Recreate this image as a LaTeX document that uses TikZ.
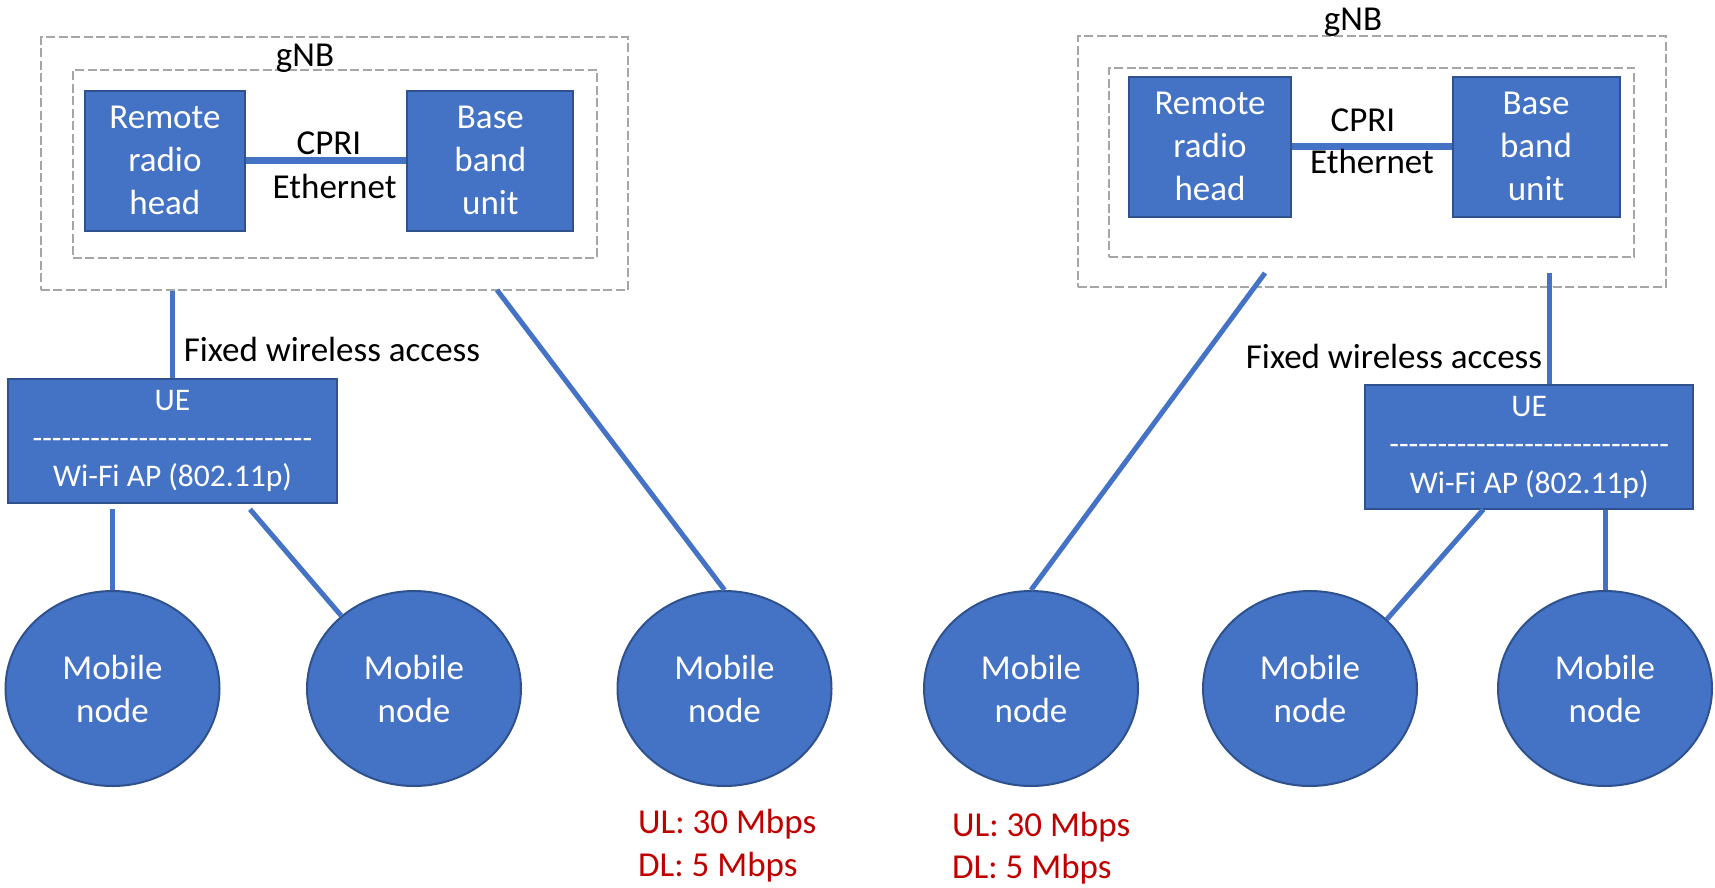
\documentclass[tikz,border=0pt]{standalone}
\usepackage{fontspec}
\setmainfont{Carlito}
\newfontfamily\uefont{Carlito}[Ligatures=TeXOff]
\usetikzlibrary{shapes.geometric,calc}
\definecolor{unitblue}{HTML}{4472C4}
\definecolor{unitedge}{HTML}{2F528F}
\definecolor{framegray}{HTML}{A6A6A6}
\definecolor{ratered}{HTML}{C00000}

\begin{document}
\begin{tikzpicture}[x=1pt,y=-1pt,
  frame/.style={draw=framegray, line width=2pt, dash pattern=on 9pt off 3.5pt, inner sep=0pt},
  unit/.style={draw=unitedge, fill=unitblue, line width=2pt, text=white, align=center,
    inner sep=0pt, minimum height=140pt, font=\fontsize{35}{43}\selectfont},
  uebox/.style={draw=unitedge, fill=unitblue, line width=2pt, text=white, align=center,
    inner sep=0pt, minimum height=124pt, font=\uefont\fontsize{31.5}{38.3}\selectfont},
  mobile/.style={ellipse, draw=unitedge, fill=unitblue, line width=2pt, text=white, align=center,
    inner sep=0pt, minimum width=214pt, minimum height=195pt, font=\fontsize{35}{43}\selectfont},
  link/.style={draw=unitblue, line width=5pt},
  trunk/.style={draw=unitblue, line width=7pt},
  lbl/.style={anchor=base, inner sep=0pt, font=\fontsize{35}{43}\selectfont},
  rate/.style={anchor=base west, inner sep=0pt, text=ratered, font=\fontsize{35}{43}\selectfont}
]
\useasboundingbox (0,0) rectangle (1715,887);

% ---------------- first gNB with its UE ----------------
\node[frame, minimum width=587pt, minimum height=252.7pt] (outA) at (334.3,163.7) {};
\node[frame, minimum width=524pt, minimum height=188.3pt] (inA) at (334.9,164.2) {};
\node[lbl] (gnbA) at (305,66.7) {gNB};
\node[unit, minimum width=160.8pt] (rrhA) at (164.9,160.7) {Remote\\radio\\head};
\node[unit, minimum width=166pt] (bbuA) at (490.4,160.7) {Base\\band\\unit};
\draw[trunk] (rrhA) -- (bbuA);
\node[lbl] (cpriA) at (329,154) {CPRI};
\node[lbl] (ethA) at (334.6,198.3) {Ethernet};

\node[uebox, minimum width=328.5pt] (ueA) at (172.5,441) {UE\\-----------------------------\\Wi-Fi AP (802.11p)};
\node[lbl] (fwaA) at (332,361) {Fixed wireless access};
\draw[link] (ueA.north) -- (ueA.north |- outA.south);

\node[mobile] (m1) at (112.5,688.5) {Mobile\\node};
\node[mobile] (m2) at (414,688.5) {Mobile\\node};
\node[mobile] (m3) at (724.5,688.5) {Mobile\\node};

\coordinate (sA1) at (112.5,509.3);
\coordinate (sA2) at (250,509.3);
\coordinate (tapA) at (497,290);
\draw[link] (sA1) -- (m1.north);
\draw[link] (sA2) -- (m2.135);
\draw[link] (tapA) -- (m3.north);

\node[rate] (ulA) at (638,833.5) {UL: 30 Mbps};
\node[rate] (dlA) at (638,876.5) {DL: 5 Mbps};

% ---------------- second gNB with its UE ----------------
\node[frame, minimum width=588.3pt, minimum height=251.3pt] (outB) at (1371.8,161.7) {};
\node[frame, minimum width=525pt, minimum height=189pt] (inB) at (1371.5,162.2) {};
\node[lbl] (gnbB) at (1353,30.7) {gNB};
\node[unit, minimum width=162pt] (rrhB) at (1210,146.7) {Remote\\radio\\head};
\node[unit, minimum width=167pt] (bbuB) at (1536,146.7) {Base\\band\\unit};
\draw[trunk] (rrhB) -- (bbuB);
\node[lbl] (cpriB) at (1363,131.7) {CPRI};
\node[lbl] (ethB) at (1372,173.3) {Ethernet};

\node[uebox, minimum width=327.5pt] (ueB) at (1529.2,447.2) {UE\\-----------------------------\\Wi-Fi AP (802.11p)};
\node[lbl] (fwaB) at (1394,368.3) {Fixed wireless access};
\coordinate (dropB) at (1549,273);
\draw[link] (dropB) -- (dropB |- ueB.north);

\node[mobile] (m4) at (1031,688.5) {Mobile\\node};
\node[mobile] (m5) at (1310,688.5) {Mobile\\node};
\node[mobile] (m6) at (1605,688.5) {Mobile\\node};

\coordinate (tapB) at (1265,273);
\coordinate (sB1) at (1483.5,509.3);
\draw[link] (tapB) -- (m4.north);
\draw[link] (sB1) -- (m5.42);
\draw[link] (m6.north |- ueB.south) -- (m6.north);

\node[rate] (ulB) at (952,836) {UL: 30 Mbps};
\node[rate] (dlB) at (952,878) {DL: 5 Mbps};
\end{tikzpicture}
\end{document}
